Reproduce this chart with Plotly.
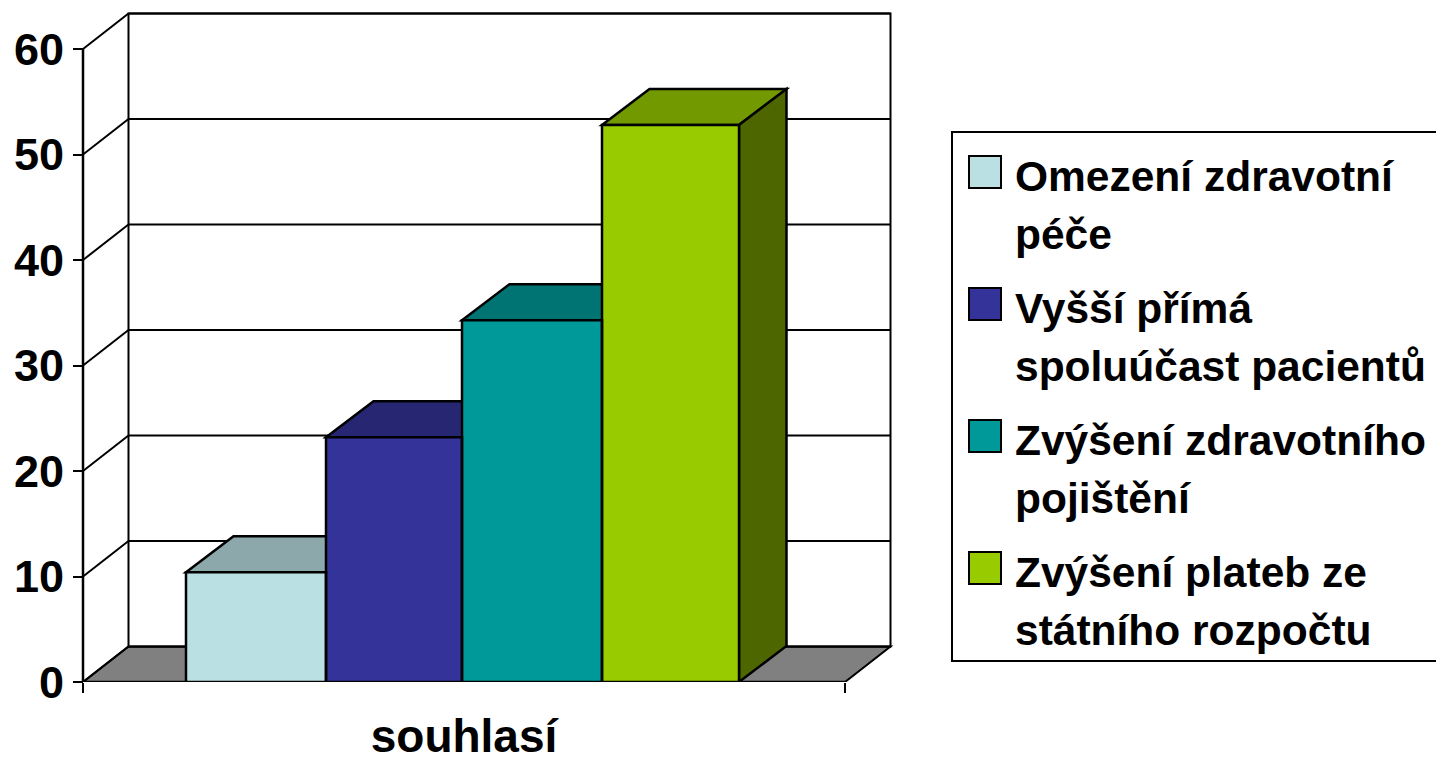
import plotly.graph_objects as go

category = ["souhlasí"]
series_first_line = ["Omezení zdravotní", "Vyšší přímá", "Zvýšení zdravotního", "Zvýšení plateb ze"]
series_second_line = ["péče", "spoluúčast pacientů", "pojištění", "státního rozpočtu"]
series_values = [10.4, 23.2, 34.3, 52.8]
front_colors = ["#BBE0E3", "#333399", "#009999", "#99CC00"]
top_colors = ["#8CA8AA", "#262673", "#007373", "#739900"]
side_colors = ["#5E7072", "#1A1A4D", "#004D4D", "#4D6600"]
y_ticks = [0, 10, 20, 30, 40, 50, 60]

W, H = 1436, 763
AX_L, AX_R, AX_Y = 83, 845, 682
UNIT_Y = 10.55
UNIT_X = AX_R - AX_L
FONT = "Liberation Sans"
BAR_EDGES = [186, 326, 462, 602, 739]

def px(p):
    return -0.5 + (p - AX_L) / UNIT_X

def paper_y(p):
    return 1 - p / AX_Y

wall_dx, wall_dy = 45.5 / UNIT_X, 35.5 / UNIT_Y
bar_dx, bar_dy = 47.5 / UNIT_X, 36 / UNIT_Y
LINE = dict(color="black", width=2)
BAR_LINE = dict(color="black", width=2.5)
shapes = []

def poly(pts, fill=None, line=LINE):
    path = "M " + " L ".join(f"{x:.5f},{y:.4f}" for x, y in pts) + " Z"
    shapes.append(dict(type="path", path=path, xref="x", yref="y", layer="below",
                       line=line, fillcolor=fill or "rgba(0,0,0,0)"))

def seg(x0, y0, x1, y1, line=LINE):
    shapes.append(dict(type="line", x0=x0, y0=y0, x1=x1, y1=y1, xref="x", yref="y",
                       layer="below", line=line))

L, R = -0.5, 0.5
ymax = y_ticks[-1]
# floor and walls
poly([(L, 0), (L + wall_dx, wall_dy), (R + wall_dx, wall_dy), (R, 0)], "#808080")
poly([(L + wall_dx, wall_dy), (L + wall_dx, ymax + wall_dy), (R + wall_dx, ymax + wall_dy), (R + wall_dx, wall_dy)], "white")
seg(L, 0, L, ymax, BAR_LINE)
for t in y_ticks:
    seg(L, t, L + wall_dx, t + wall_dy)
    seg(L + wall_dx, t + wall_dy, R + wall_dx, t + wall_dy)
seg(L, 0, R, 0, BAR_LINE)

# bar depth faces and front outlines
for i, v in enumerate(series_values):
    x0, x1 = px(BAR_EDGES[i]), px(BAR_EDGES[i + 1])
    poly([(x0, v), (x0 + bar_dx, v + bar_dy), (x1 + bar_dx, v + bar_dy), (x1, v)], top_colors[i], BAR_LINE)
    poly([(x1, 0), (x1 + bar_dx, bar_dy), (x1 + bar_dx, v + bar_dy), (x1, v)], side_colors[i], BAR_LINE)
    shapes.append(dict(type="rect", x0=x0, x1=x1, y0=0, y1=v, xref="x", yref="y",
                       layer="above", line=BAR_LINE, fillcolor="rgba(0,0,0,0)"))

# legend box and large swatches behind the transparent legend
shapes.append(dict(type="rect", xref="paper", yref="paper", layer="below",
                   x0=952 / W, x1=1445 / W, y0=paper_y(132), y1=paper_y(661),
                   fillcolor="white", line=LINE))
swatch_tops = [156, 288, 420, 552]
for c, t in zip(front_colors, swatch_tops):
    shapes.append(dict(type="rect", xref="paper", yref="paper", layer="below",
                       x0=969 / W, x1=1001 / W, y0=paper_y(t), y1=paper_y(t + 32),
                       fillcolor=c, line=LINE))

fig = go.Figure()
for i, (first, second, v, c) in enumerate(zip(series_first_line, series_second_line,
                                              series_values, front_colors)):
    x0, x1 = px(BAR_EDGES[i]), px(BAR_EDGES[i + 1])
    fig.add_trace(go.Bar(x=category, y=[v], name=first, legendgroup=f"s{i}",
                         width=x1 - x0, offset=x0,
                         marker=dict(color=c, line=dict(width=0))))
    fig.add_trace(go.Scatter(x=[None], y=[None], name=second, legendgroup=f"s{i}",
                             mode="markers", marker=dict(color="rgba(0,0,0,0)", size=1)))

fig.update_layout(
    width=W, height=H,
    margin=dict(l=0, r=0, t=0, b=H - AX_Y, autoexpand=False),
    paper_bgcolor="white", plot_bgcolor="rgba(0,0,0,0)",
    barmode="overlay",
    font=dict(family=FONT, size=45, color="black"),
    shapes=shapes,
    showlegend=True,
    legend=dict(x=952 / W, y=paper_y(140), xanchor="left", yanchor="top",
                bgcolor="rgba(0,0,0,0)", borderwidth=0,
                font=dict(family=FONT, size=42.5, color="black", weight="bold"),
                itemwidth=53, tracegroupgap=15.5, traceorder="grouped",
                itemclick=False, itemdoubleclick=False),
    xaxis=dict(type="category", range=[px(0), px(W)], showgrid=False, showline=False,
               zeroline=False, tickson="boundaries", ticks="outside", ticklen=10,
               tickwidth=2, tickcolor="black", ticklabelstandoff=23,
               tickfont=dict(family=FONT, size=46, color="black", weight="bold")),
    yaxis=dict(range=[0, AX_Y / UNIT_Y], tickmode="array", tickvals=y_ticks,
               anchor="free", position=AX_L / W, showgrid=False, showline=False,
               zeroline=False, ticks="outside", ticklen=10, tickwidth=2, tickcolor="black",
               tickfont=dict(family=FONT, size=45, color="black", weight="bold")),
)
fig.write_html("out.html", config={"displayModeBar": False},
               post_script="document.body.style.margin='0';")
